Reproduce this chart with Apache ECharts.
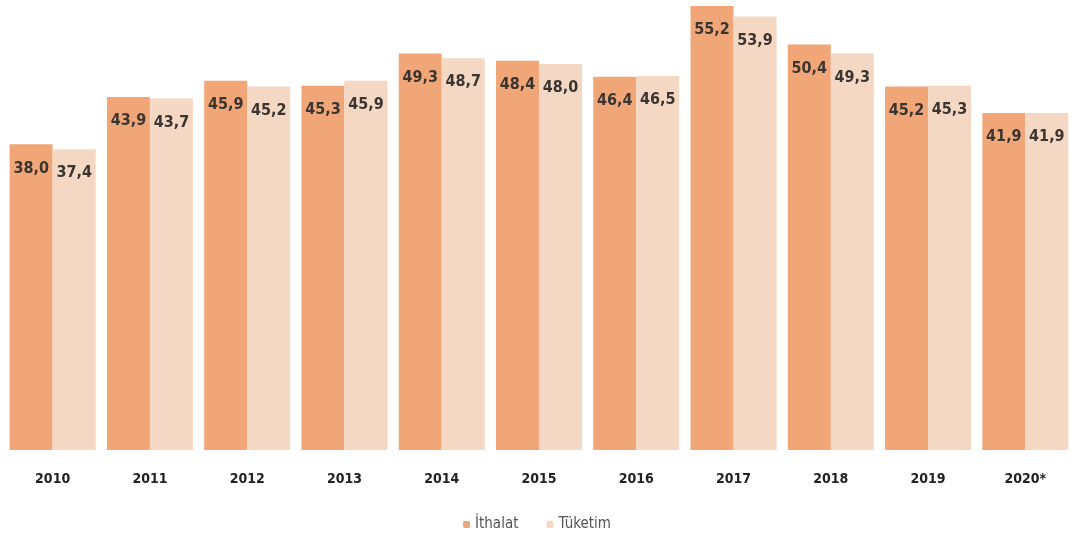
<!DOCTYPE html>
<html>
<head>
<meta charset="utf-8">
<script src="https://cdn.jsdelivr.net/npm/echarts@6/dist/echarts.min.js"></script>
<style>
html, body { margin: 0; padding: 0; background: #fff; }
#chart { width: 1074px; height: 548px; }
</style>
</head>
<body>
<div id="chart"></div>
<script>
let years = ['2010', '2011', '2012', '2013', '2014', '2015', '2016', '2017', '2018', '2019', '2020*'];
let ithalat = [38.0, 43.9, 45.9, 45.3, 49.3, 48.4, 46.4, 55.2, 50.4, 45.2, 41.9];
let tuketim = [37.4, 43.7, 45.2, 45.9, 48.7, 48.0, 46.5, 53.9, 49.3, 45.3, 41.9];

let myChart = echarts.init(document.getElementById('chart'));

// 38.0 -> "38,0"
function fmt(p) {
    return p.value.toFixed(1).replace('.', ',');
}

let labelStyle = {
    show: true,
    position: 'insideTop',
    distance: 16,
    formatter: fmt,
    color: '#3a3530',
    fontSize: 16,
    fontWeight: 'bold',
    fontFamily: 'DejaVu Sans Condensed, DejaVu Sans'
};

myChart.setOption({
    animation: false,
    grid: { left: 4, right: -8, top: 6, bottom: 98 },
    legend: {
        bottom: 11,
        left: 'center',
        itemWidth: 7,
        itemHeight: 7,
        itemGap: 28,
        textStyle: { color: '#555', fontSize: 15, fontFamily: 'DejaVu Sans Condensed, DejaVu Sans' },
        data: ['İthalat', 'Tüketim']
    },
    xAxis: {
        type: 'category',
        data: years,
        axisLine: { show: false },
        axisTick: { show: false },
        axisLabel: {
            margin: 22,
            color: '#222',
            fontSize: 14,
            fontWeight: 'bold',
            fontFamily: 'DejaVu Sans Condensed, DejaVu Sans'
        }
    },
    yAxis: {
        type: 'value',
        min: 0,
        max: 55.2,
        show: false,
        splitLine: { show: false }
    },
    series: [
        {
            name: 'İthalat',
            type: 'bar',
            data: ithalat,
            barWidth: 43,
            barGap: '0%',
            itemStyle: { color: '#f1a677' },
            label: labelStyle
        },
        {
            name: 'Tüketim',
            type: 'bar',
            data: tuketim,
            barWidth: 43,
            itemStyle: { color: '#f4d8c3' },
            label: labelStyle
        }
    ]
});
</script>
</body>
</html>
